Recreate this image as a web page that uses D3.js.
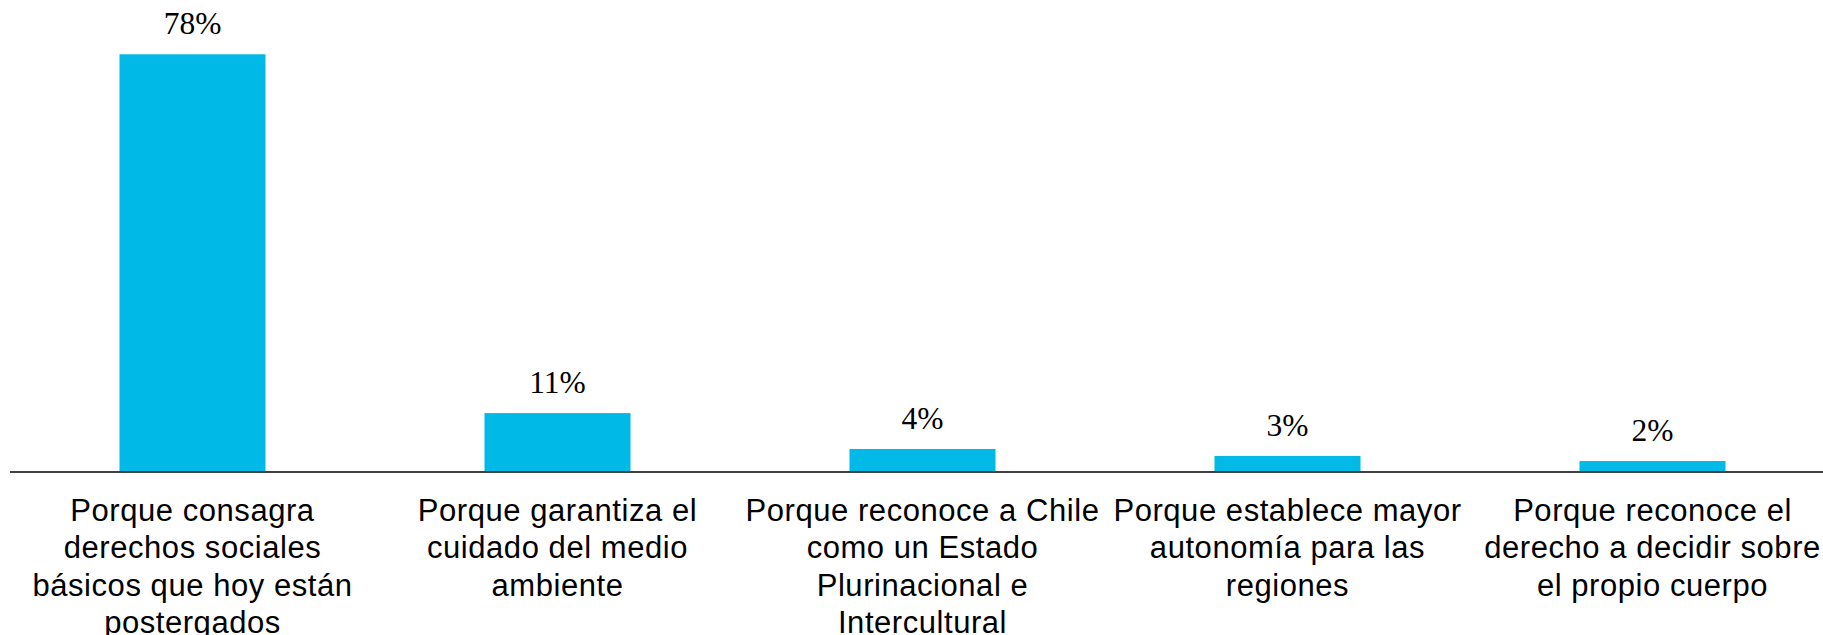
<!DOCTYPE html>
<html>
<head>
<meta charset="utf-8">
<script src="https://cdn.jsdelivr.net/npm/d3@7"></script>
<style>
  html, body { margin: 0; padding: 0; background: #ffffff; }
  svg { display: block; }
</style>
</head>
<body>
<svg id="chart" width="1823" height="635"></svg>
<script>
const categories = [
  "Porque consagra derechos sociales básicos que hoy están postergados",
  "Porque garantiza el cuidado del medio ambiente",
  "Porque reconoce a Chile como un Estado Plurinacional e Intercultural",
  "Porque establece mayor autonomía para las regiones",
  "Porque reconoce el derecho a decidir sobre el propio cuerpo"
];
const values = [78, 11, 4.3, 3.0, 2.05];
const valueLabels = ["78%", "11%", "4%", "3%", "2%"];

const W = 1823, H = 635;
const svg = d3.select("#chart");

const x = d3.scaleBand()
  .domain(categories)
  .range([10, 1835])
  .paddingInner(0.6)
  .paddingOuter(0.3);

const baseY = 472;
const y = d3.scaleLinear().domain([0, 78]).range([baseY, 54.3]);

// bars
svg.selectAll("rect.bar")
  .data(categories)
  .join("rect")
  .attr("class", "bar")
  .attr("x", d => x(d))
  .attr("width", x.bandwidth())
  .attr("y", (d, i) => y(values[i]))
  .attr("height", (d, i) => baseY - y(values[i]))
  .attr("fill", "#00B9E7");

// axis line
const axis = d3.axisBottom(x).tickSize(0).tickFormat("");
const gAxis = svg.append("g").attr("transform", `translate(0,${baseY})`).call(axis);
gAxis.select(".domain").attr("stroke", "#404040").attr("stroke-width", 2)
  .attr("d", `M10,0H${W}`);

// value labels
svg.selectAll("text.val")
  .data(categories)
  .join("text")
  .attr("class", "val")
  .attr("x", d => x(d) + x.bandwidth() / 2)
  .attr("y", (d, i) => y(values[i]) - 20)
  .attr("text-anchor", "middle")
  .attr("font-family", "'Liberation Serif', 'DejaVu Serif', serif")
  .attr("font-size", 31.5)
  .attr("fill", "#000")
  .text((d, i) => valueLabels[i]);

// category labels with wrapping
const maxW = 360;
const lineH = 37.3;
const catG = svg.selectAll("text.cat")
  .data(categories)
  .join("text")
  .attr("class", "cat")
  .attr("text-anchor", "middle")
  .attr("font-family", "'Liberation Sans', Arial, sans-serif")
  .attr("font-size", 31)
  .attr("letter-spacing", "0.55px")
  .attr("fill", "#000");

catG.each(function(d) {
  const t = d3.select(this);
  const cx = x(d) + x.bandwidth() / 2;
  const words = d.split(" ");
  let lines = [];
  let cur = [];
  const probe = t.append("tspan");
  words.forEach(w => {
    const test = cur.concat([w]).join(" ");
    probe.text(test);
    if (probe.node().getComputedTextLength() > maxW && cur.length) {
      lines.push(cur.join(" "));
      cur = [w];
    } else {
      cur.push(w);
    }
  });
  if (cur.length) lines.push(cur.join(" "));
  probe.remove();
  lines.forEach((ln, i) => {
    t.append("tspan")
      .attr("x", cx)
      .attr("y", 521 + i * lineH)
      .text(ln);
  });
});
</script>
</body>
</html>
